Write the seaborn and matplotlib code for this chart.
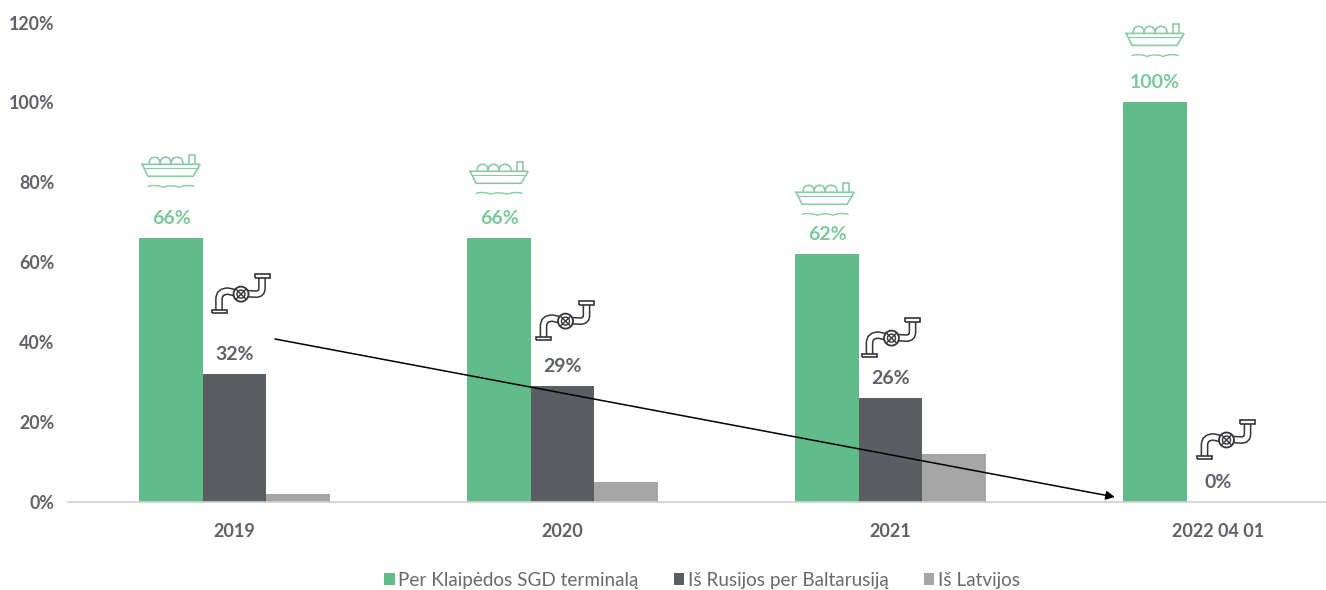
import numpy as np
import pandas as pd
import matplotlib
matplotlib.use("Agg")
import matplotlib.pyplot as plt
from matplotlib.path import Path
from matplotlib.patches import PathPatch, Circle
from matplotlib.transforms import Affine2D
import seaborn as sns

# ---- data
categories = ["2019", "2020", "2021", "2022 04 01"]
series_names = ["Per Klaipėdos SGD terminalą", "Iš Rusijos per Baltarusiją", "Iš Latvijos"]
terminal = [66, 66, 62, 100]
russia = [32, 29, 26, 0]
latvia = [2, 5, 12, 0]
y_ticks = [0, 20, 40, 60, 80, 100, 120]

# ---- styles
GREEN, DARK, LIGHT = "#62BC89", "#5A5E62", "#A6A6A6"
LABEL_GREEN = "#7CC79D"
TEXT = "#5F6266"
W, H, DPI = 1326, 590, 100

sns.set_theme(style="white")
plt.rcParams["font.family"] = ["Lato", "DejaVu Sans"]

df = pd.DataFrame({
    "cat": categories * 3,
    "series": sum([[n] * 4 for n in series_names], []),
    "value": terminal + russia + latvia,
})

fig = plt.figure(figsize=(W / DPI, H / DPI), dpi=DPI, facecolor="white")
x0_px, y0_px, ytop_px = 68, 502, 22.5
ax = fig.add_axes([x0_px / W, (H - y0_px) / H, (W - x0_px) / W, (y0_px - ytop_px) / H])

sns.barplot(data=df, x="cat", y="value", hue="series", order=categories,
            hue_order=series_names, palette=[GREEN, DARK, LIGHT],
            width=0.58, gap=0, saturation=1, linewidth=0, ax=ax)

step = 328.0
ax.set_xlim(-(234.5 - x0_px) / step, (W - 234.5) / step)
ax.set_ylim(0, 120)
ax.set_xlabel("")
ax.set_ylabel("")
ax.set_yticks(y_ticks)
ax.set_yticklabels([f"{t}%" for t in y_ticks])
for s in ["top", "left", "right"]:
    ax.spines[s].set_visible(False)
ax.spines["bottom"].set_color("#CFCFCF")
ax.spines["bottom"].set_linewidth(1.2)
ax.tick_params(axis="x", length=0, pad=15, labelsize=13, labelcolor=TEXT)
ax.tick_params(axis="y", length=0, pad=10, labelsize=12.8, labelcolor=TEXT)
for lab in ax.get_xticklabels() + ax.get_yticklabels():
    lab.set_fontweight("bold")

# value labels
ax.bar_label(ax.containers[0], labels=[f"{v}%" for v in terminal], padding=8,
             color=LABEL_GREEN, fontsize=14, fontweight="bold")
ax.bar_label(ax.containers[1], labels=[f"{v}%" for v in russia], padding=8,
             color=TEXT, fontsize=14, fontweight="bold")

# legend
sns.move_legend(ax, "center", bbox_to_anchor=(0.504, -0.163), ncol=3, frameon=False, title=None,
                fontsize=13.6, handlelength=0.55, handleheight=0.55, handletextpad=0.2,
                columnspacing=1.85, labelcolor="#6A6A6A")

# arrow across the chart
ax.annotate("", xy=(2.684, 1.25), xytext=(0.123, 40.8),
            arrowprops=dict(arrowstyle="-|>", color="black", lw=1.1, mutation_scale=13,
                            shrinkA=0, shrinkB=0), zorder=6)

# ---- icons (pixel-sized, anchored to their bars)
def anchor(x, v, dx, dy):
    px, py = ax.transData.transform((x, v))
    return Affine2D().translate(px + dx, py + dy)

def stroke(verts, codes, tr, color, lw):
    ax.add_patch(PathPatch(Path(verts, codes), fc="none", ec=color, lw=lw,
                           transform=tr, clip_on=False, zorder=5, capstyle="round"))

M, L, C3 = Path.MOVETO, Path.LINETO, Path.CURVE3

def ship(x, v, dy):
    tr = anchor(x, v, 0, dy)
    c, lw = "#8CCBA6", 1.2
    stroke([(-29, 7), (29, 7), (22, -5), (-23, -5), (-29, 7)], [M, L, L, L, L], tr, c, lw)
    stroke([(-27, 3), (27, 3)], [M, L], tr, c, 0.8)
    vs, cs = [], []
    for a, b in [(-22, -11), (-11, 0), (0, 12)]:
        vs += [(a, 7), (a, 14), ((a + b) / 2, 14), (b, 14), (b, 7)]
        cs += [M, C3, C3, C3, C3]
    stroke(vs, cs, tr, c, lw)
    stroke([(18, 7), (18, 16), (24, 16), (24, 7)], [M, L, L, L], tr, c, lw)
    wx = [-23, -15, -8, 0, 8, 15, 23]
    wy = [-15, -13, -16, -13, -16, -13, -15]
    stroke(list(zip(wx, wy)), [M] + [C3] * 6, tr, c, 1.0)

def pipe(x, v, dx, dy):
    tr = anchor(x, v, dx, dy)
    verts = [(-22, -16), (-22, -5), (-22, 3), (-13, 3), (-4, 1), (15, 0), (21, 0), (21, 6), (21, 17)]
    codes = [M, L, C3, C3, L, L, C3, C3, L]
    for col, lw, z in [("#333538", 5.6, 5), ("white", 3.4, 5.1)]:
        ax.add_patch(PathPatch(Path(verts, codes), fc="none", ec=col, lw=lw, transform=tr,
                               clip_on=False, zorder=z))
    for cx, cy, w in [(-22, -17.5, 15), (21, 18, 15)]:
        p = [(cx - w / 2, cy - 1.8), (cx + w / 2, cy - 1.8), (cx + w / 2, cy + 1.8),
             (cx - w / 2, cy + 1.8), (cx - w / 2, cy - 1.8)]
        ax.add_patch(PathPatch(Path(p, [M, L, L, L, L]), fc="white", ec="#333538", lw=1.2,
                               transform=tr, clip_on=False, zorder=5.2))
    ax.add_patch(Circle((0, 0), 7.5, fc="white", ec="#333538", lw=1.3, transform=tr,
                        clip_on=False, zorder=5.3))
    ax.add_patch(Circle((0, 0), 4, fc="none", ec="#333538", lw=1.0, transform=tr,
                        clip_on=False, zorder=5.4))
    for s in (1, -1):
        ax.add_patch(PathPatch(Path([(-5.3, -5.3 * s), (5.3, 5.3 * s)], [M, L]), fc="none",
                               ec="#333538", lw=1.0, transform=tr, clip_on=False, zorder=5.5))

bar_offset = 0.58 / 3
ship_lift = [67, 60, 55, 62]
ship_shift = [0, 0, -2, 0]
pipe_dx = [6.5, 3, 1, 8]
pipe_lift = [80, 65, 60, 62]
for i, (t, r) in enumerate(zip(terminal, russia)):
    ship(i - bar_offset + ship_shift[i] / step, t, ship_lift[i])
    pipe(i, r, pipe_dx[i], pipe_lift[i])

fig.savefig("out.png", dpi=DPI, facecolor="white")
